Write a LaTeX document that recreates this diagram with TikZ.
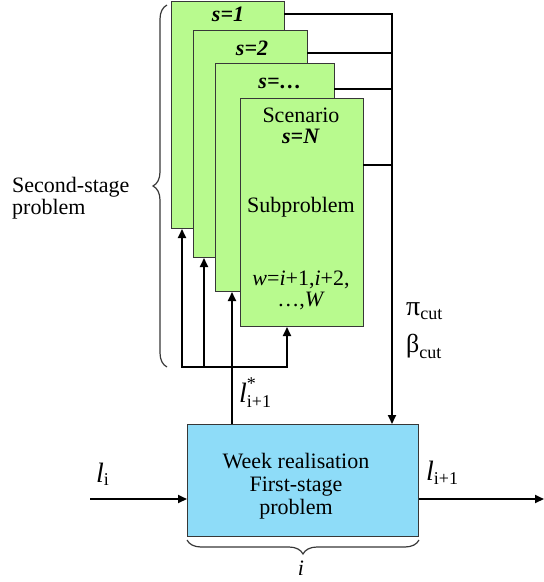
\documentclass[tikz,border=0pt]{standalone}
\usepackage{fontspec}
\setmainfont{Liberation Serif}
\usetikzlibrary{arrows.meta,decorations.pathreplacing}
\definecolor{gfill}{RGB}{184,250,142}
\definecolor{bfill}{RGB}{142,220,248}
\definecolor{edgec}{RGB}{55,55,55}
\newcommand\myL{\fontsize{28}{28}\selectfont}
\newcommand\myS{\fontsize{18}{18}\selectfont}
\begin{document}
\begin{tikzpicture}[x=1pt,y=-1pt,
 gbox/.style={draw=edgec, line width=1pt, fill=gfill, rectangle, anchor=north west, inner sep=0pt},
 bbox/.style={draw=edgec, line width=1pt, fill=bfill, rectangle, anchor=north west, inner sep=0pt, minimum width=231pt, minimum height=112pt},
 wire/.style={line width=2pt, black, line cap=rect},
 arr/.style={line width=2pt, black, -{Triangle[length=9pt,width=8pt]}},
 txt/.style={font=\fontsize{22}{22}\selectfont, inner sep=0pt},
 brc/.style={decorate, decoration={brace, amplitude=14pt}, line width=1.2pt, draw=edgec}]
\useasboundingbox (0,0) rectangle (544,582);
% scenario boxes
\node[gbox, minimum width=113pt, minimum height=227pt] (b1) at (171,1) {};
\node[gbox, minimum width=114pt, minimum height=227pt] (b2) at (193,30) {};
\node[gbox, minimum width=119pt, minimum height=228pt] (b3) at (215,63) {};
\node[gbox, minimum width=123pt, minimum height=228pt] (b4) at (240,98) {};
\node[txt, anchor=base] (t1) at (228,21) {\textbf{\textit{s=1}}};
\node[txt, anchor=base] (t2) at (252,55) {\textbf{\textit{s=2}}};
\node[txt, anchor=base] (t3) at (280,88) {\textbf{\textit{s=…}}};
\node[txt, anchor=base] (t4a) at (301,122) {Scenario};
\node[txt, anchor=base] (t4b) at (301,143) {\textbf{\textit{s=N}}};
\node[txt, anchor=base] (t4c) at (301,212) {Subproblem};
\node[txt, anchor=base] (t4d) at (301,285) {\textit{w}=\textit{i}+1,\textit{i}+2,};
\node[txt, anchor=base] (t4e) at (301,306) {…,\textit{W}};
% first-stage box
\node[bbox] (blue) at (187,424) {};
\node[txt, align=center, font=\fontsize{22}{23}\selectfont] (bt) at (296,486) {Week realisation\\First-stage\\problem};
% right feedback wires
\coordinate (c1) at (392,14);
\coordinate (c2) at (392,53);
\coordinate (c3) at (392,89);
\coordinate (c4) at (392,165);
\draw[wire] (b1.east |- c1) -- (c1);
\draw[wire] (b2.east |- c2) -- (c2);
\draw[wire] (b3.east |- c3) -- (c3);
\draw[wire] (b4.east |- c4) -- (c4);
\draw[arr] (c1) -- (c1 |- blue.north);
% left distribution wires
\coordinate (j1) at (182,367);
\coordinate (j2) at (204,367);
\coordinate (j3) at (232,367);
\coordinate (j4) at (287,367);
\draw[wire] (j1) -- (j4);
\draw[arr] (j1) -- (j1 |- b1.south);
\draw[arr] (j2) -- (j2 |- b2.south);
\draw[arr] (j3 |- blue.north) -- (j3 |- b3.south);
\draw[arr] (j4) -- (j4 |- b4.south);
% input / output
\coordinate (in) at (90,499);
\coordinate (out) at (544,499);
\draw[arr] (in) -- (in -| blue.west);
\draw[arr] (blue.east |- out) -- (out);
% labels
\node[inner sep=0pt, anchor=base west] (li) at (96,482) {\myL\itshape l\/\myS\upshape\raisebox{-3pt}{i}};
\node[inner sep=0pt, anchor=base west] (lo) at (426,480) {\myL\itshape l\/\myS\upshape\raisebox{-4pt}{i+1}};
\node[inner sep=0pt, anchor=base west] (ls) at (239,402) {\myL\itshape l\/\myS\upshape\rlap{\raisebox{13pt}{*}}\raisebox{-5pt}{i+1}};
\node[inner sep=0pt, anchor=base west] (pc) at (406,315) {\fontsize{28}{28}\selectfont π\myS\raisebox{-4pt}{cut}};
\node[inner sep=0pt, anchor=base west] (bc) at (406,352) {\fontsize{26}{26}\selectfont β\myS\raisebox{-6pt}{cut}};
\node[txt, align=left, anchor=west] (ssp) at (12,198) {Second-stage\\problem};
\node[txt, anchor=base] (il) at (301,575) {\textit{i}};
% braces
\draw[brc] (167,367) -- (167,5);
\draw[brc] ([yshift=-3pt]blue.south east) -- ([yshift=-3pt]blue.south west);
\end{tikzpicture}
\end{document}
